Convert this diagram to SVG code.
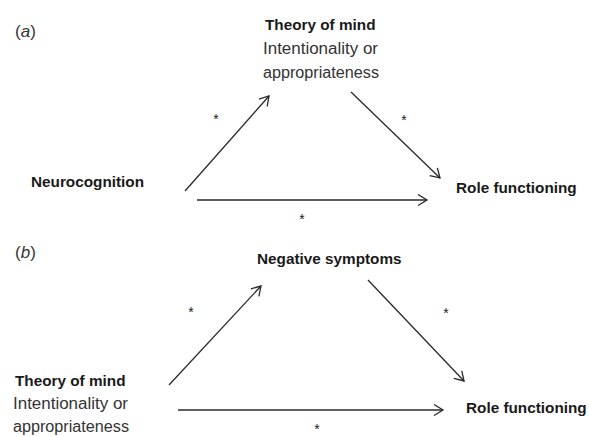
<svg xmlns="http://www.w3.org/2000/svg" width="589" height="437" viewBox="0 0 589 437">
<style>
text{font-family:"Liberation Sans",Arial,sans-serif;}
.b{font-weight:bold;font-size:15.3px;fill:#1a1a1a;}
.r{font-size:16px;fill:#333;}
.p{font-size:17px;fill:#333;}
.s{font-size:14px;fill:#222;}
.c{stroke:#2a2a2a;stroke-width:1.3;fill:none;marker-end:url(#ah);}
</style>
<defs>
<marker id="ah" markerUnits="userSpaceOnUse" markerWidth="14" markerHeight="14" refX="10" refY="6" orient="auto">
<path d="M1,0.5 L10,6 L1,11.5" fill="none" stroke="#2a2a2a" stroke-width="1.3"/>
</marker>
</defs>
<rect width="589" height="437" fill="#fff"/>
<g id="panel-a-label"><text class="p" x="15" y="37">(<tspan font-style="italic">a</tspan>)</text></g>
<g id="a-tom">
<text class="b" x="265" y="30">Theory of mind</text>
<text class="r" x="263" y="54" textLength="115" lengthAdjust="spacingAndGlyphs">Intentionality or</text>
<text class="r" x="263" y="78" textLength="116" lengthAdjust="spacingAndGlyphs">appropriateness</text>
</g>
<g id="a-neuro"><text class="b" x="31" y="187">Neurocognition</text></g>
<g id="a-role"><text class="b" x="456" y="193">Role functioning</text></g>
<g id="panel-b-label"><text class="p" x="15" y="258">(<tspan font-style="italic">b</tspan>)</text></g>
<g id="b-neg"><text class="b" x="257" y="264">Negative symptoms</text></g>
<g id="b-tom">
<text class="b" x="15" y="386">Theory of mind</text>
<text class="r" x="13" y="409" textLength="115" lengthAdjust="spacingAndGlyphs">Intentionality or</text>
<text class="r" x="13" y="432" textLength="116" lengthAdjust="spacingAndGlyphs">appropriateness</text>
</g>
<g id="b-role"><text class="b" x="466" y="413">Role functioning</text></g>
<g id="connectors">
<line class="c" x1="185" y1="191" x2="269" y2="96"/>
<line class="c" x1="351" y1="92" x2="440" y2="178"/>
<line class="c" x1="197" y1="200" x2="427" y2="200"/>
<line class="c" x1="169" y1="385" x2="261" y2="286"/>
<line class="c" x1="368" y1="280" x2="464" y2="381"/>
<line class="c" x1="178" y1="410" x2="443" y2="410"/>
<text class="s" x="216" y="124" text-anchor="middle">*</text>
<text class="s" x="404" y="125" text-anchor="middle">*</text>
<text class="s" x="302" y="224" text-anchor="middle">*</text>
<text class="s" x="191" y="317" text-anchor="middle">*</text>
<text class="s" x="446" y="318" text-anchor="middle">*</text>
<text class="s" x="317" y="434" text-anchor="middle">*</text>
</g>
</svg>
